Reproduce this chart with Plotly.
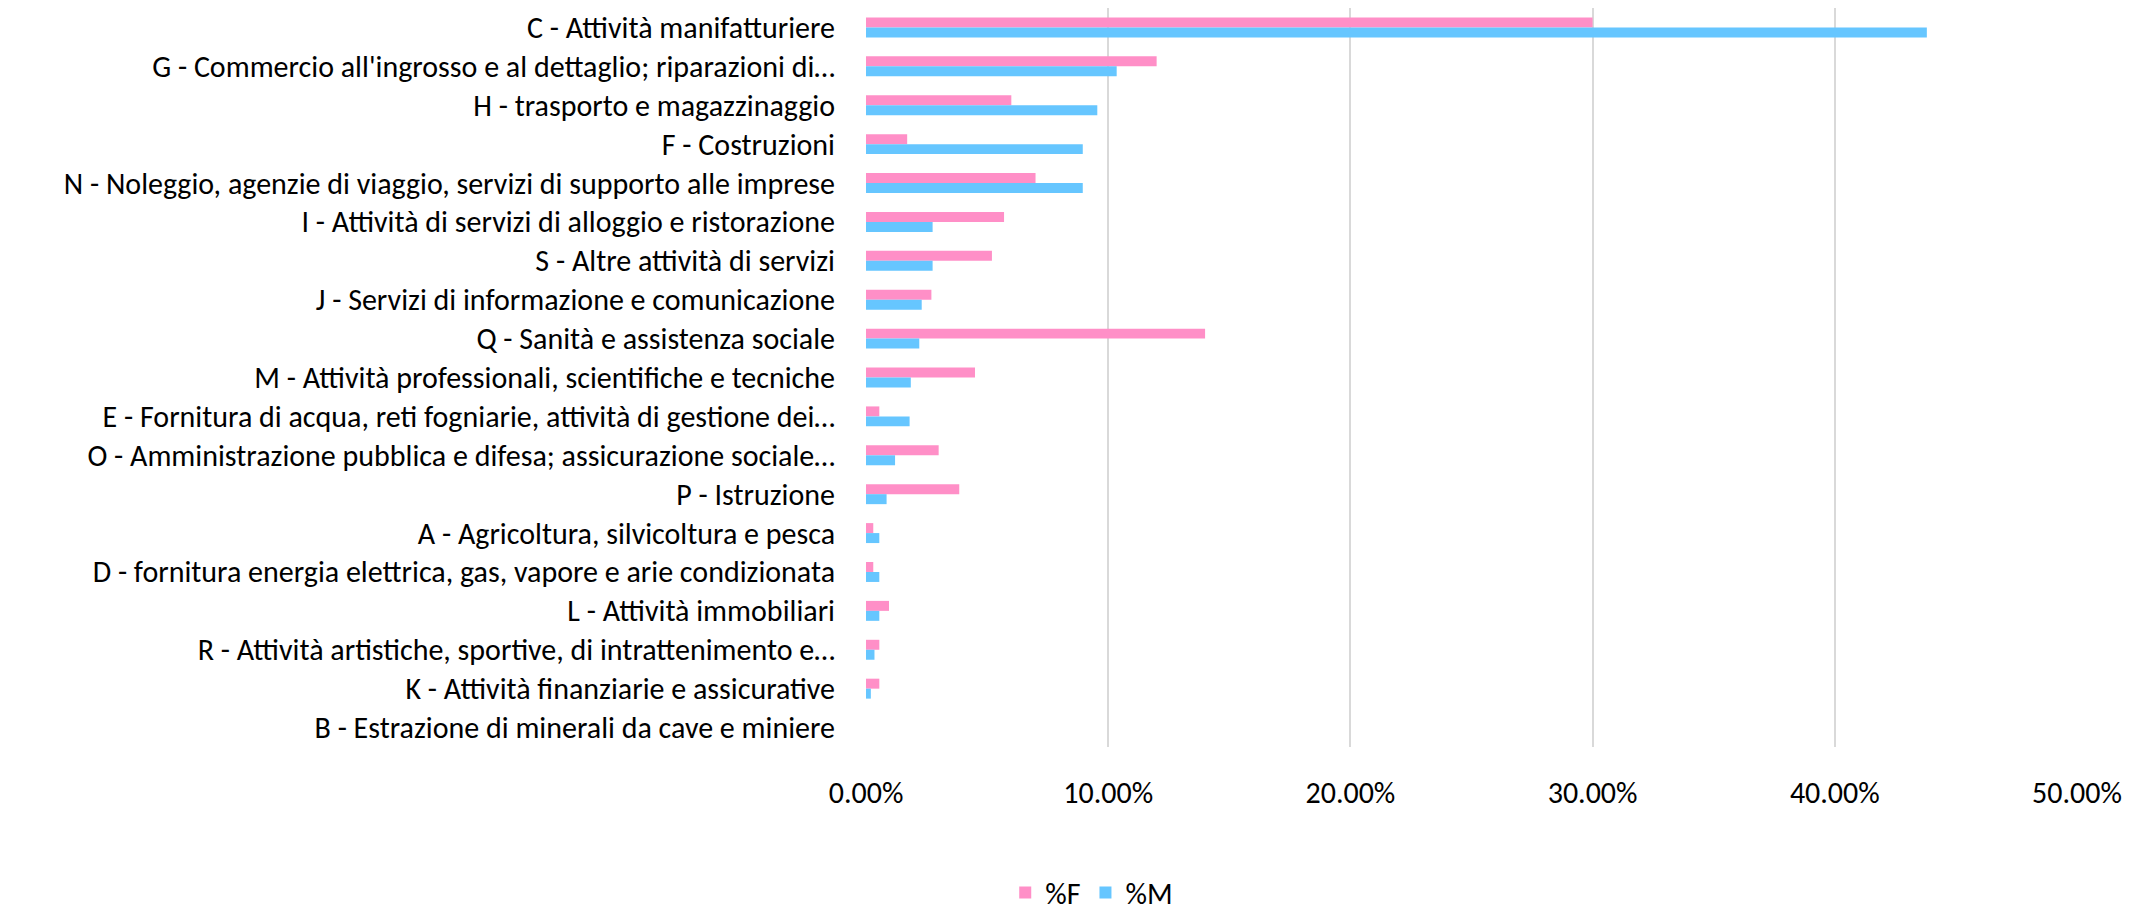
import plotly.graph_objects as go

# Sectors, top to bottom as in the chart
categories = [
    "C - Attività manifatturiere",
    "G - Commercio all'ingrosso e al dettaglio; riparazioni di…",
    "H - trasporto e magazzinaggio",
    "F - Costruzioni",
    "N - Noleggio, agenzie di viaggio, servizi di supporto alle imprese",
    "I - Attività di servizi di alloggio e ristorazione",
    "S - Altre attività di servizi",
    "J - Servizi di informazione e comunicazione",
    "Q - Sanità e assistenza sociale",
    "M - Attività professionali, scientifiche e tecniche",
    "E - Fornitura di acqua, reti fogniarie, attività di gestione dei…",
    "O - Amministrazione pubblica e difesa; assicurazione sociale…",
    "P - Istruzione",
    "A - Agricoltura, silvicoltura e pesca",
    "D - fornitura energia elettrica, gas, vapore e arie condizionata",
    "L - Attività immobiliari",
    "R - Attività artistiche, sportive, di intrattenimento e…",
    "K - Attività finanziarie e assicurative",
    "B - Estrazione di minerali da cave e miniere",
]

# Percent shares
pct_f = [30.0, 12.0, 6.0, 1.7, 7.0, 5.7, 5.2, 2.7, 14.0, 4.5,
         0.55, 3.0, 3.85, 0.3, 0.3, 0.95, 0.55, 0.55, 0.0]
pct_m = [43.8, 10.35, 9.55, 8.95, 8.95, 2.75, 2.75, 2.3, 2.2, 1.85,
         1.8, 1.2, 0.85, 0.55, 0.55, 0.55, 0.35, 0.2, 0.0]

x_ticks = [0, 0.1, 0.2, 0.3, 0.4, 0.5]

FONT = "Calibri, Carlito, Lato, sans-serif"

fig = go.Figure()

fig.add_trace(go.Bar(
    y=categories,
    x=[v / 100 for v in pct_f],
    name="%F",
    orientation="h",
    marker=dict(color="#FF8FC7", line=dict(width=0)),
))

fig.add_trace(go.Bar(
    y=categories,
    x=[v / 100 for v in pct_m],
    name="%M",
    orientation="h",
    marker=dict(color="#66C6FF", line=dict(width=0)),
))

# page body adds ~8px offset, margins compensate for it
fig.update_layout(
    width=2146,
    height=910,
    barmode="group",
    bargap=0.487,
    bargroupgap=0,
    plot_bgcolor="white",
    paper_bgcolor="white",
    font=dict(family=FONT, size=30, color="#000000"),
    margin=dict(l=858, r=77, t=0, b=171),
    xaxis=dict(
        range=[0, 0.5],
        tickvals=x_ticks,
        tickformat=".2%",
        showgrid=True,
        gridcolor="#D9D9D9",
        gridwidth=1.5,
        zeroline=False,
        showline=False,
        ticks="",
        ticklabelstandoff=25,
    ),
    yaxis=dict(
        autorange="reversed",
        showgrid=False,
        zeroline=False,
        showline=False,
        ticks="",
        ticklabelstandoff=30,
        automargin=False,
    ),
    showlegend=True,
    legend=dict(
        orientation="h",
        xref="container",
        yref="container",
        x=0.505,
        y=0.028,
        xanchor="center",
        yanchor="middle",
        font=dict(size=30),
        itemwidth=30,
        traceorder="normal",
    ),
)

fig.write_html("out.html")
